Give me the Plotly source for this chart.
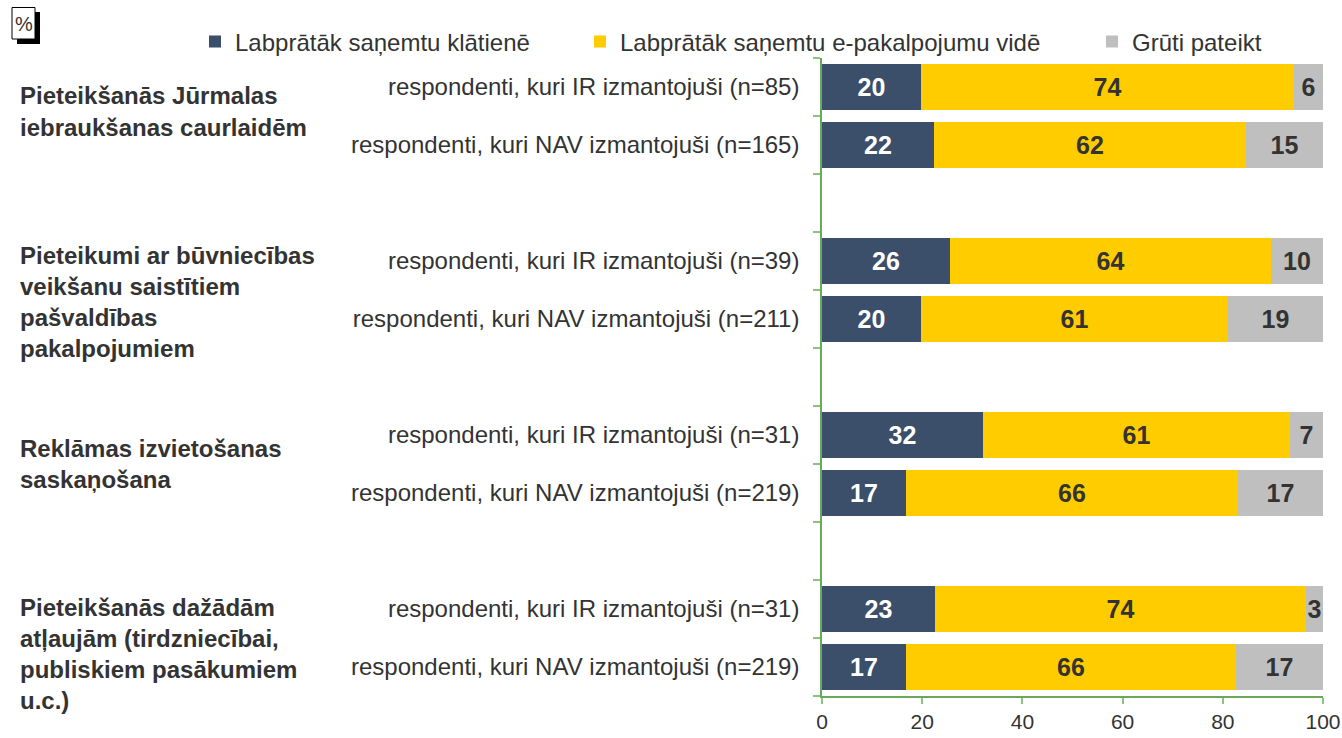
import plotly.graph_objects as go

# ---------------- data ----------------
series_names = ["Labprātāk saņemtu klātienē",
                "Labprātāk saņemtu e-pakalpojumu vidē",
                "Grūti pateikt"]
group_labels = [
    "Pieteikšanās Jūrmalas<br>iebraukšanas caurlaidēm",
    "Pieteikumi ar būvniecības<br>veikšanu saistītiem<br>pašvaldības<br>pakalpojumiem",
    "Reklāmas izvietošanas<br>saskaņošana",
    "Pieteikšanās dažādām<br>atļaujām (tirdzniecībai,<br>publiskiem pasākumiem<br>u.c.)",
]
row_labels = [
    "respondenti, kuri IR izmantojuši (n=85)",
    "respondenti, kuri NAV izmantojuši (n=165)",
    "respondenti, kuri IR izmantojuši (n=39)",
    "respondenti, kuri NAV izmantojuši (n=211)",
    "respondenti, kuri IR izmantojuši (n=31)",
    "respondenti, kuri NAV izmantojuši (n=219)",
    "respondenti, kuri IR izmantojuši (n=31)",
    "respondenti, kuri NAV izmantojuši (n=219)",
]
in_person = [19.8, 22.4, 25.6, 19.8, 32.1, 16.8, 22.6, 16.8]
e_service = [74.4, 62.3, 64.0, 61.2, 61.3, 66.2, 74.0, 65.8]
hard_to_say = [5.8, 15.3, 10.4, 19.0, 6.6, 17.0, 3.4, 17.4]
x_ticks = [0, 20, 40, 60, 80, 100]

# ---------------- layout helpers ----------------
W, H = 1342, 738
PLOT_X0, PLOT_X1, PLOT_Y0, PLOT_Y1 = 822, 1323, 58, 696   # in screen pixels
L, R = PLOT_X0, W - PLOT_X1
T, B = PLOT_Y0, H - PLOT_Y1
PW, PH = W - L - R, H - T - B
FONT = "Liberation Sans, Arial, sans-serif"
TXT = "#333333"
GREEN = "#6aa85a"
TICKGREEN = "#8cc47f"
colors = ["#3b4f6b", "#ffcc00", "#bfbfbf"]
text_colors = ["#ffffff", TXT, TXT]


def px_x(px):
    return (px - PLOT_X0) / PW


def px_y(py):
    return (PLOT_Y1 - py) / PH


# bar slots: two rows per group, one empty slot between groups
rows_per_group = 2
y_pos = [g * (rows_per_group + 1) + r
         for g in range(len(group_labels)) for r in range(rows_per_group)]
n_slots = y_pos[-1] + 1

fig = go.Figure()
values = [in_person, e_service, hard_to_say]
legend_ids = ["legend", "legend2", "legend3"]
for i, (name, vals) in enumerate(zip(series_names, values)):
    fig.add_trace(go.Bar(
        x=vals, y=y_pos, orientation="h", name=name,
        marker=dict(color=colors[i], line=dict(width=0)),
        width=0.78,
        texttemplate="%{x:.0f}", textposition="inside",
        insidetextanchor="middle", constraintext="none",
        textfont=dict(family=FONT, size=25, color=text_colors[i], weight="bold"),
        legend=legend_ids[i], showlegend=True,
        hoverinfo="x+name",
    ))

legend_common = dict(orientation="h", yanchor="middle", y=px_y(42),
                     xanchor="left", bgcolor="rgba(0,0,0,0)",
                     font=dict(family=FONT, size=24, color=TXT),
                     itemwidth=30, tracegroupgap=0, visible=True)

fig.update_layout(
    width=W, height=H,
    margin=dict(l=L, r=R, t=T, b=B, pad=0, autoexpand=False),
    paper_bgcolor="white", plot_bgcolor="white",
    barmode="stack", bargap=0,
    showlegend=True,
    font=dict(family=FONT, size=20, color=TXT),
    legend=dict(x=px_x(195), **legend_common),
    legend2=dict(x=px_x(580), **legend_common),
    legend3=dict(x=px_x(1092), **legend_common),
    xaxis=dict(range=[0, 100], tickvals=x_ticks, showgrid=False, zeroline=False,
               showline=True, linecolor=GREEN, linewidth=1.5,
               ticks="outside", ticklen=6, tickcolor=TICKGREEN, tickwidth=1.5,
               tickfont=dict(family=FONT, size=21, color=TXT)),
    yaxis=dict(range=[n_slots - 0.5, -0.5], tickvals=y_pos, ticktext=row_labels,
               showgrid=False, zeroline=False,
               showline=True, linecolor=GREEN, linewidth=1.5,
               ticks="outside", ticklen=0, ticklabelstandoff=16,
               tickfont=dict(family=FONT, size=24, color=TXT),
               minor=dict(ticks="outside", tick0=-0.5, dtick=1, ticklen=7,
                          tickcolor=TICKGREEN, tickwidth=1.5, showgrid=False)),
)

# group labels (bold, left aligned)
label_top_px = [96, 255, 448, 607]
line_h = 31.3
for g, (lab, top) in enumerate(zip(group_labels, label_top_px)):
    for k, line in enumerate(lab.split("<br>")):
        fig.add_annotation(
            x=px_x(18), y=px_y(top + k * line_h), xref="paper", yref="paper",
            text=line, showarrow=False, xanchor="left", yanchor="middle",
            font=dict(family=FONT, size=24, color=TXT, weight="bold"))

# "%" box with shadow
fig.add_shape(type="rect", xref="paper", yref="paper",
              x0=px_x(17), x1=px_x(40), y0=px_y(44), y1=px_y(12),
              fillcolor="black", line=dict(width=0))
fig.add_shape(type="rect", xref="paper", yref="paper",
              x0=px_x(12), x1=px_x(35), y0=px_y(39), y1=px_y(7.5),
              fillcolor="white", line=dict(color="black", width=1))
fig.add_annotation(x=px_x(23.5), y=px_y(23.5), xref="paper", yref="paper",
                   text="%", showarrow=False, xanchor="center", yanchor="middle",
                   font=dict(family=FONT, size=20, color=TXT))

# remove the default page margin so the figure fills the window exactly
fig.write_html("out.html",
               config={"displayModeBar": False},
               post_script="document.body.style.margin='0';"
                           "document.body.style.overflow='hidden';")
